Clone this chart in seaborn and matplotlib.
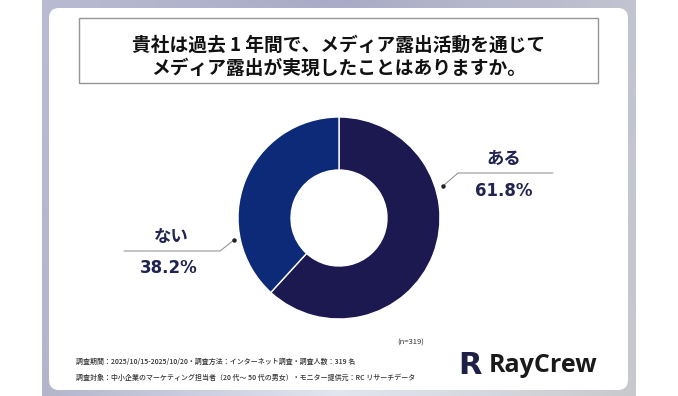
import numpy as np
import matplotlib
matplotlib.use("Agg")
import matplotlib.pyplot as plt
from matplotlib.patches import FancyBboxPatch, Rectangle
import seaborn as sns

# ---- data ----
categories = ["ある", "ない"]
values = [61.8, 38.2]
pct_labels = ["61.8%", "38.2%"]
colors = ["#1c1850", "#0c2a78"]
title_lines = ["貴社は過去 1 年間で、メディア露出活動を通じて",
               "メディア露出が実現したことはありますか。"]
sample_note = "(n=319)"
foot_lines = ["調査期間：2025/10/15-2025/10/20・調査方法：インターネット調査・調査人数：319 名",
              "調査対象：中小企業のマーケティング担当者（20 代～ 50 代の男女）・モニター提供元：RC リサーチデータ"]
brand = "RayCrew"

sns.set_theme(style="white")
plt.rcParams['font.family'] = ['Noto Sans CJK JP', 'DejaVu Sans']

W, H = 678, 396
fig = plt.figure(figsize=(W / 100, H / 100), dpi=100)
fig.patch.set_facecolor("white")
ax = fig.add_axes([0, 0, 1, 1])

def Y(y):
    return H - y

# ---- background gradient band ----
def hexrgb(h):
    h = h.lstrip('#')
    return np.array([int(h[i:i + 2], 16) / 255 for i in (0, 2, 4)])

bx0, bx1 = 42, 636
nx, ny = 200, 100
xs = np.linspace(0, 1, nx)
ys = np.linspace(0, 1, ny)
top = [hexrgb("#b9bbd2"), hexrgb("#a9abc6"), hexrgb("#c2c4d0")]
bot = [hexrgb("#b3b5cb"), hexrgb("#e2e6ef"), hexrgb("#c8c9cc")]

def row(stops):
    out = np.zeros((nx, 3))
    for i, t in enumerate(xs):
        if t < 0.5:
            f = t / 0.5
            out[i] = stops[0] * (1 - f) + stops[1] * f
        else:
            f = (t - 0.5) / 0.5
            out[i] = stops[1] * (1 - f) + stops[2] * f
    return out

rt, rb = row(top), row(bot)
img = np.zeros((ny, nx, 3))
for j, t in enumerate(ys):
    img[j] = rt * (1 - t) + rb * t
ax.imshow(img, extent=[bx0, bx1, 0, H], origin="upper", aspect="auto", zorder=0,
          interpolation="bilinear")

# ---- white card ----
card = FancyBboxPatch((49 + 10, Y(390) + 10), (628 - 49) - 20, (390 - 8) - 20,
                      boxstyle="round,pad=10", fc="white", ec="none", zorder=1)
ax.add_patch(card)

# ---- title box ----
ax.add_patch(Rectangle((79, Y(83)), 598 - 79, 83 - 18, fc="white", ec="#959595",
                       lw=1.0, zorder=2))
ax.text(339, Y(45), title_lines[0], ha="center", va="center", fontsize=13.5,
        fontweight="bold", color="#111111", zorder=3)
ax.text(339, Y(68.5), title_lines[1], ha="center", va="center", fontsize=13.5,
        fontweight="bold", color="#111111", zorder=3)

# ---- donut ----
wedges, _ = ax.pie(values, colors=colors, startangle=90, counterclock=False,
                   radius=101, center=(339, Y(218)),
                   wedgeprops=dict(width=53, edgecolor="white", linewidth=1.0))
for w in wedges:
    w.set_zorder(3)

txt_c = "#1f2450"
# label positions (layout)
lab_pos = [(504, 159), (171, 237)]
pct_pos = [(504, 191), (169, 268)]
leaders = [[(443, 186), (458, 173), (553, 173)],
           [(234, 240), (220, 251), (124, 251)]]
for i in range(len(categories)):
    ax.text(lab_pos[i][0], Y(lab_pos[i][1]), categories[i], ha="center", va="center",
            fontsize=12.5, fontweight="bold", color=txt_c, zorder=4)
    ax.text(pct_pos[i][0], Y(pct_pos[i][1]), pct_labels[i], ha="center", va="center",
            fontsize=12, fontweight="bold", color=txt_c, family="DejaVu Sans", zorder=4)
    pts = leaders[i]
    ax.plot([p[0] for p in pts], [Y(p[1]) for p in pts], color="#8a8a8a", lw=0.7,
            zorder=4)
    ax.plot(pts[0][0], Y(pts[0][1]), "o", ms=2.2, color="#222222", zorder=5)

# ---- footer ----
ax.text(411, Y(343), sample_note, ha="center", va="center", fontsize=5.5,
        color="#333333", zorder=4)
ax.text(76, Y(362), foot_lines[0], ha="left", va="center", fontsize=5,
        fontweight="medium", color="#333333", zorder=4)
ax.text(76, Y(378), foot_lines[1], ha="left", va="center", fontsize=5,
        fontweight="medium", color="#333333", zorder=4)

# logo
ax.text(470, Y(366), "R", ha="center", va="center", fontsize=22, fontweight="heavy",
        family="DejaVu Sans", color="#1e2046", zorder=4)
ax.text(489, Y(366), brand, ha="left", va="center", fontsize=18, fontweight="bold",
        family="Open Sans", color="#1a1a1a", zorder=4)

ax.set_xlim(0, W)
ax.set_ylim(0, H)
ax.set_aspect("auto")
ax.axis("off")

fig.savefig("out.png", dpi=100, facecolor="white")
